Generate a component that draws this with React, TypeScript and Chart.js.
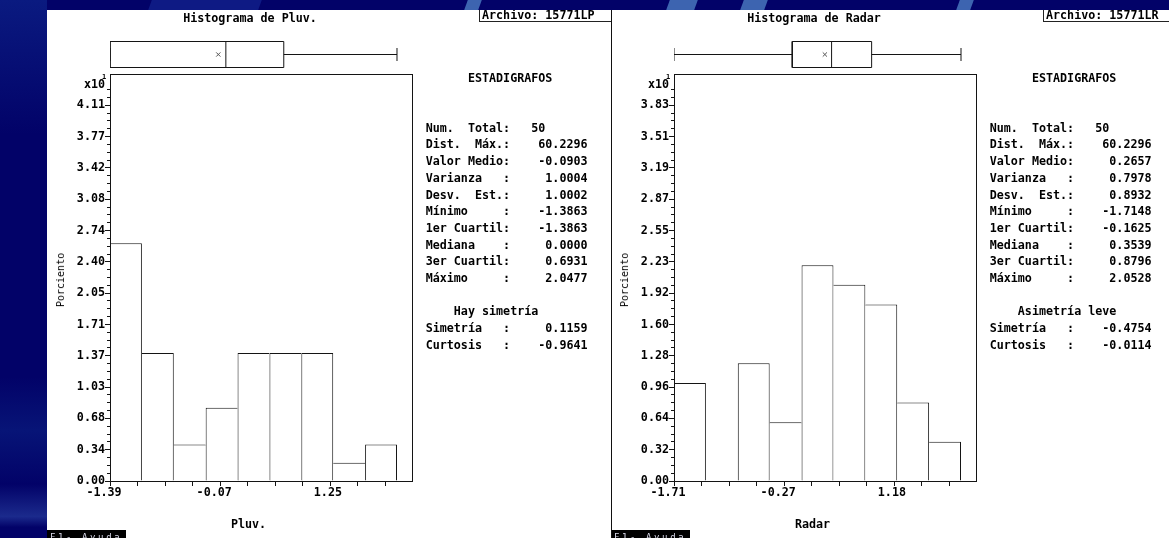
import React, { useEffect, useRef } from 'react';
import { Chart, registerables } from 'chart.js';

Chart.register(...registerables);

const MONO = '"DejaVu Sans Mono", "Liberation Mono", monospace';
const INK = '#141414';

// ---- Pluv. ----
const pluvPercent = [2.6, 1.4, 0.4, 0.8, 1.4, 1.4, 1.4, 0.2, 0.4]; // porciento x10
const pluvFiveNum = [-1.3863, -1.3863, 0.0, 0.6931, 2.0477]; // min, Q1, mediana, Q3, max
const pluvMean = -0.0903;
const pluvYStep = 0.3425;
const pluvYTicks = ['0.00', '0.34', '0.68', '1.03', '1.37', '1.71', '2.05', '2.40', '2.74', '3.08', '3.42', '3.77', '4.11'];
const pluvXStep = 0.3296;
const pluvXTicks = ['-1.39', '-0.07', '1.25'];
const pluvValues = ['50', '60.2296', '-0.0903', '1.0004', '1.0002', '-1.3863', '-1.3863', '0.0000', '0.6931', '2.0477'];
const pluvShape = ['0.1159', '-0.9641'];

// ---- Radar ----
const radarPercent = [1.0, 0.0, 1.2, 0.6, 2.2, 2.0, 1.8, 0.8, 0.4];
const radarFiveNum = [-1.7148, -0.1625, 0.3539, 0.8796, 2.0528];
const radarMean = 0.2657;
const radarYStep = 0.31917;
const radarYTicks = ['0.00', '0.32', '0.64', '0.96', '1.28', '1.60', '1.92', '2.23', '2.55', '2.87', '3.19', '3.51', '3.83'];
const radarXStep = 0.3616;
const radarXTicks = ['-1.71', '-0.27', '1.18'];
const radarValues = ['50', '60.2296', '0.2657', '0.7978', '0.8932', '-1.7148', '-0.1625', '0.3539', '0.8796', '2.0528'];
const radarShape = ['-0.4754', '-0.0114'];

const statLabels = [
  'Num.  Total:', 'Dist.  Máx.:', 'Valor Medio:', 'Varianza   :', 'Desv.  Est.:',
  'Mínimo     :', '1er Cuartil:', 'Mediana    :', '3er Cuartil:', 'Máximo     :',
];
const shapeLabels = ['Simetría   :', 'Curtosis   :'];

type Spec = {
  title: string;
  file: string;
  axisName: string;
  verdict: string;
  percent: number[];
  fiveNum: number[];
  mean: number;
  yStep: number;
  yTicks: string[];
  xStep: number;
  xTicks: string[];
  values: string[];
  shape: string[];
};

const panels: Spec[] = [
  {
    title: 'Histograma de Pluv.', file: 'Archivo: 15771LP', axisName: 'Pluv.', verdict: 'Hay simetría',
    percent: pluvPercent, fiveNum: pluvFiveNum, mean: pluvMean, yStep: pluvYStep, yTicks: pluvYTicks,
    xStep: pluvXStep, xTicks: pluvXTicks, values: pluvValues, shape: pluvShape,
  },
  {
    title: 'Histograma de Radar', file: 'Archivo: 15771LR', axisName: 'Radar', verdict: 'Asimetría leve',
    percent: radarPercent, fiveNum: radarFiveNum, mean: radarMean, yStep: radarYStep, yTicks: radarYTicks,
    xStep: radarXStep, xTicks: radarXTicks, values: radarValues, shape: radarShape,
  },
];

function statText(s: Spec) {
  const lines = ['      ESTADIGRAFOS', '', ''];
  lines.push(statLabels[0] + '   ' + s.values[0]);
  for (let i = 1; i < statLabels.length; i++) lines.push(statLabels[i] + s.values[i].padStart(11));
  lines.push('');
  lines.push('    ' + s.verdict);
  s.shape.forEach((v, i) => lines.push(shapeLabels[i] + v.padStart(11)));
  return lines.join('\n');
}

// Draws the closed frame around the histogram area
const framePlugin = {
  id: 'histFrame',
  afterDatasetsDraw(chart: any) {
    const { ctx, scales } = chart;
    const x = scales.x;
    const y = scales.y;
    ctx.save();
    ctx.strokeStyle = INK;
    ctx.lineWidth = 1;
    const l = Math.round(x.left) + 0.5;
    const t = Math.round(y.top) + 0.5;
    const r = Math.round(x.right) - 0.5;
    const b = Math.round(y.bottom) + 0.5;
    ctx.strokeRect(l, t, r - l, b - t);
    ctx.restore();
  },
};

const tickFont = { family: MONO, size: 11.7, weight: 'bold' as const };

function makeConfig(s: Spec): any {
  const [lo, q1, med, q3, hi] = s.fiveNum;
  const nBins = s.percent.length;
  const binW = (hi - lo) / nBins;
  const xMax = lo + s.xStep * 11;
  const yMax = s.yStep * 13;
  const pts = (p: number[][]) => p.map(([x, y]) => ({ x, y }));
  const stroke = {
    type: 'line', xAxisID: 'x', yAxisID: 'yBox', borderColor: INK, borderWidth: 1,
    pointRadius: 0, fill: false, tension: 0,
  };
  const h = s.percent;
  // each shared edge is drawn once, by the taller of the two neighbouring bars
  const barBorder = (ctx: any) => {
    const i = ctx.dataIndex;
    if (i === undefined) return 1;
    const cur = h[i];
    const prev = i > 0 ? h[i - 1] : 0;
    const next = i < h.length - 1 ? h[i + 1] : 0;
    return {
      top: cur > 0 ? 1 : 0,
      left: cur > 0 && cur >= prev ? 1 : 0,
      right: cur > 0 && cur > next ? 1 : 0,
      bottom: 0,
    };
  };

  return {
    type: 'bar',
    data: {
      datasets: [
        {
          type: 'bar', xAxisID: 'xb', yAxisID: 'y', grouped: false,
          data: h.map((v, i) => ({ x: lo + binW * (i + 0.5), y: v })),
          backgroundColor: '#ffffff', borderColor: INK, borderWidth: barBorder,
          borderSkipped: false, barPercentage: 1, categoryPercentage: 1, inflateAmount: 0,
        },
        { ...stroke, data: pts([[q1, 0], [q3, 0], [q3, 1], [q1, 1], [q1, 0]]) },
        { ...stroke, data: pts([[med, 0], [med, 1]]) },
        { ...stroke, data: pts([[lo, 0.5], [q1, 0.5]]) },
        { ...stroke, data: pts([[lo, 0.25], [lo, 0.75]]) },
        { ...stroke, data: pts([[q3, 0.5], [hi, 0.5]]) },
        { ...stroke, data: pts([[hi, 0.25], [hi, 0.75]]) },
        {
          type: 'line', xAxisID: 'x', yAxisID: 'yBox', showLine: false,
          data: [{ x: s.mean, y: 0.5 }],
          pointStyle: 'crossRot', pointRadius: 3, pointBorderColor: '#555', pointBorderWidth: 1,
          pointBackgroundColor: '#555',
        },
      ],
    },
    options: {
      responsive: false,
      animation: false,
      devicePixelRatio: 1,
      events: [],
      layout: { padding: { left: 0, right: 196, top: 25, bottom: 0 } },
      plugins: { legend: { display: false }, tooltip: { enabled: false }, title: { display: false } },
      scales: {
        x: {
          type: 'linear', position: 'bottom', min: lo, max: xMax, offset: false,
          afterBuildTicks: (sc: any) => {
            sc.ticks = Array.from({ length: 11 }, (_, i) => ({ value: lo + i * s.xStep }));
          },
          afterFit: (sc: any) => { sc.height = 57; },
          ticks: {
            autoSkip: false, maxRotation: 0, minRotation: 0, padding: 0, labelOffset: -6,
            color: '#000', font: tickFont,
            // labels keep a sign column, so positive values get a leading blank
            callback: (_v: any, i: number) => (i % 4 === 0 ? s.xTicks[i / 4].padStart(5) : ''),
          },
          grid: { offset: false, drawOnChartArea: false, drawTicks: true, tickLength: 5, tickColor: INK },
          border: { display: false },
        },
        xb: {
          type: 'linear', display: false, min: lo, max: xMax, offset: false,
          afterBuildTicks: (sc: any) => { sc.ticks = [{ value: lo }]; },
          grid: { offset: false },
        },
        y: {
          type: 'linear', position: 'left', stack: 'hist', stackWeight: 407, weight: 0,
          min: 0, max: yMax,
          afterBuildTicks: (sc: any) => {
            sc.ticks = Array.from({ length: 51 }, (_, i) => ({ value: (i * s.yStep) / 4 }));
          },
          afterFit: (sc: any) => { sc.width = 63; },
          ticks: {
            autoSkip: false, padding: 0, color: '#000', font: tickFont,
            callback: (_v: any, i: number) => (i % 4 === 0 ? s.yTicks[i / 4] : ''),
          },
          grid: {
            drawOnChartArea: false, drawTicks: true, tickLength: 5, tickColor: INK,
            tickBorderDash: (c: any) => (c.index % 4 === 0 ? [] : [0, 2, 3, 10]),
          },
          border: { display: false },
        },
        yBox: {
          type: 'linear', position: 'left', stack: 'hist', stackWeight: 39, weight: 1,
          min: -0.25, max: 1.25,
          afterFit: (sc: any) => { sc.width = 63; },
          ticks: { display: false },
          grid: { display: false, drawTicks: false },
          border: { display: false },
        },
      },
    },
    plugins: [framePlugin],
  };
}

const txt = (extra: React.CSSProperties): React.CSSProperties => ({
  position: 'absolute',
  fontFamily: MONO,
  fontSize: 11.7,
  fontWeight: 'bold',
  color: '#000',
  whiteSpace: 'pre',
  lineHeight: '12px',
  ...extra,
});

function Panel({ spec, left }: { spec: Spec; left: number }) {
  const ref = useRef<HTMLCanvasElement>(null);
  useEffect(() => {
    const chart = new Chart(ref.current as HTMLCanvasElement, makeConfig(spec));
    return () => chart.destroy();
  }, [spec]);

  return (
    <div style={{ position: 'absolute', left, top: 10, width: 564, height: 528, background: '#fff', overflow: 'hidden' }}>
      <canvas ref={ref} width={562} height={528} style={{ position: 'absolute', left: 0, top: 0, width: 562, height: 528 }} />
      <div style={txt({ left: 203, top: 8, transform: 'translate(-50%, -50%)' })}>{spec.title}</div>
      <div style={{ position: 'absolute', left: 432, top: 0, width: 140, height: 11, borderLeft: '1px solid #222', borderBottom: '1px solid #222' }} />
      <div style={txt({ left: 435, top: 5, transform: 'translateY(-50%)' })}>{spec.file}</div>
      <div style={txt({ left: 37, top: 74, transform: 'translateY(-50%)' })}>x10</div>
      <div style={txt({ left: 55, top: 67, fontSize: 7, lineHeight: '8px', transform: 'translateY(-50%)' })}>1</div>
      <div style={txt({ left: 378.7, top: 68 - 8.35, lineHeight: '16.7px' })}>{statText(spec)}</div>
      <div style={txt({ left: 14, top: 270, fontSize: 10, fontWeight: 'normal', transform: 'translate(-50%, -50%) rotate(-90deg)' })}>Porciento</div>
      <div style={txt({ left: 201.5, top: 514, transform: 'translate(-50%, -50%)' })}>{spec.axisName}</div>
      <div style={{ position: 'absolute', left: 0, top: 520, width: 79, height: 10, background: '#000', overflow: 'hidden' }}>
        <div style={txt({ left: 3, top: 2, fontSize: 9, fontWeight: 'normal', color: '#d8d8e8', letterSpacing: 2.6, lineHeight: '10px' })}>F1- Ayuda</div>
      </div>
      {left > 100 ? <div style={{ position: 'absolute', left: 0, top: 0, width: 1, height: 528, background: '#111' }} /> : null}
    </div>
  );
}

const streaks = [
  { left: 150, width: 110, color: '#0e1a84' },
  { left: 466, width: 14, color: '#3d64b0' },
  { left: 668, width: 28, color: '#3d64b0' },
  { left: 742, width: 24, color: '#3d64b0' },
  { left: 958, width: 14, color: '#3d64b0' },
];

export default function App() {
  return (
    <div style={{ position: 'fixed', left: 0, top: 0, width: 1169, height: 538, overflow: 'hidden', background: '#020268' }}>
      <div style={{ position: 'absolute', left: 0, top: 0, width: 47, height: 538, background: 'linear-gradient(180deg, #0a1a80 0%, #020268 25%, #020268 70%, #071477 80%, #020268 90%, #1b2a8c 96%, #020268 98%)' }} />
      {streaks.map((s, i) => (
        <div key={i} style={{ position: 'absolute', left: s.left, top: -2, width: s.width, height: 14, background: s.color, transform: 'skewX(-20deg)' }} />
      ))}
      {panels.map((p, i) => (
        <Panel key={i} spec={p} left={47 + i * 564} />
      ))}
    </div>
  );
}
